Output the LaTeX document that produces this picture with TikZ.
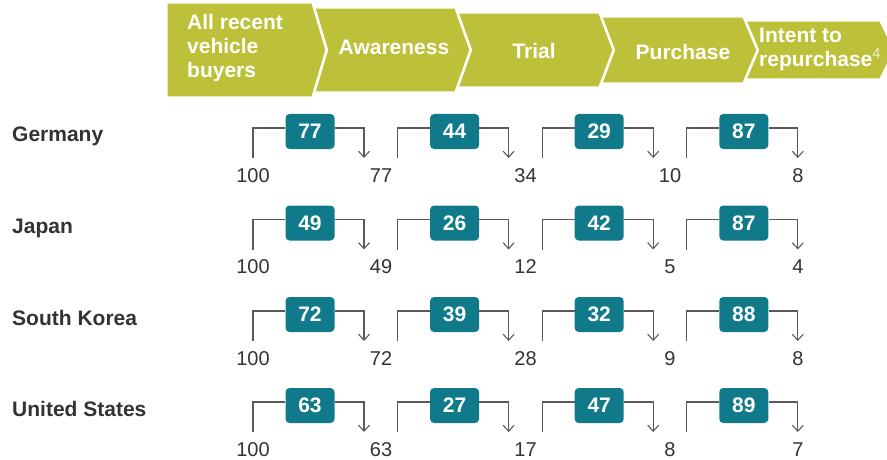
\documentclass[tikz,border=0pt]{standalone}
\usepackage{fontspec}
\setmainfont{Liberation Sans}
\usetikzlibrary{positioning, arrows.meta, calc}
\definecolor{cG}{RGB}{189,192,57}
\definecolor{cT}{RGB}{16,122,138}
\definecolor{cTxt}{RGB}{51,51,51}
\definecolor{cLine}{RGB}{90,90,90}

\begin{document}
\begin{tikzpicture}[x=1pt, y=-1pt,
stage/.style={fill = cG, draw = white, line width = 1.2pt},
stagetext/.style={text = white, font = \fontsize{21}{24}\selectfont\bfseries, inner sep = 0pt},
country/.style={anchor = base west, text = cTxt, font = \fontsize{21}{24}\selectfont\bfseries, inner sep = 0pt},
num/.style={anchor = base, text = cTxt, font = \fontsize{20}{24}\selectfont, inner sep = 0pt},
rate/.style={rectangle, fill = cT, rounded corners = 4pt, minimum width = 49pt, minimum height = 35pt, inner sep = 0pt, text = white, font = \fontsize{21}{24}\selectfont\bfseries},
flow/.style={draw = cLine, line width = 1.1pt},
down/.style={-{Straight Barb[length=6pt, width=11pt]}}]

\useasboundingbox (0,0) rectangle (887,460);

% funnel stages
\draw[stage] (167,3) -- (312,3) -- (326,50) -- (312,97) -- (167,97) -- cycle;
\draw[stage] (315,8) -- (455,8) -- (470,50) -- (455,92) -- (315,92) -- (327.5,50) -- cycle;
\draw[stage] (458.3,13) -- (599,13) -- (613,50) -- (599,87) -- (458.3,87) -- (471.5,50) -- cycle;
\draw[stage] (602,17) -- (743,17) -- (757,50) -- (743,83) -- (602,83) -- (614.5,50) -- cycle;
\draw[stage] (746.2,21) -- (880,21) -- (894,50) -- (880,79) -- (746.2,79) -- (758.5,50) -- cycle;

\node[stagetext, align = left, anchor = west] (s1) at (187,48) {All recent\\vehicle\\buyers};
\node[stagetext] (s2) at (394,47) {Awareness};
\node[stagetext] (s3) at (534,51) {Trial};
\node[stagetext] (s4) at (683,52) {Purchase};
\node[stagetext, align = left, anchor = west] (s5) at (759,49) {Intent to\\repurchase\textsuperscript{\mdseries\color{white!75!cG}4}};

% one row per market
\foreach \r/\name/\y/\na/\nb/\nc/\nd/\va/\vb/\vc/\vd in {
	1/Germany/128/77/44/29/87/77/34/10/8,
	2/Japan/219.5/49/26/42/87/49/12/5/4,
	3/South Korea/311/72/39/32/88/72/28/9/8,
	4/United States/402/63/27/47/89/63/17/8/7} {
	\node[country] (c\r) at (12,\y+14) {\name};
	\node[num] (n\r0) at (253,\y+54) {100};
	\foreach \k/\p/\v/\nx in {1/\na/\va/381, 2/\nb/\vb/525.5, 3/\nc/\vc/670, 4/\nd/\vd/798} {
		\coordinate (a\r\k) at (253+144.6*\k-144.6,\y+30);
		\coordinate (b\r\k) at (364+144.6*\k-144.6,\y+30);
		\node[rate] (box\r\k) at (310+144.6*\k-144.6,\y+3.5) {\p};
		\node[num] (n\r\k) at (\nx,\y+54) {\v};
		\draw[flow] (a\r\k) |- ([yshift=3.5pt]box\r\k.west);
		\draw[flow, down] ([yshift=3.5pt]box\r\k.east) -| (b\r\k);
	}
}
\end{tikzpicture}
\end{document}
